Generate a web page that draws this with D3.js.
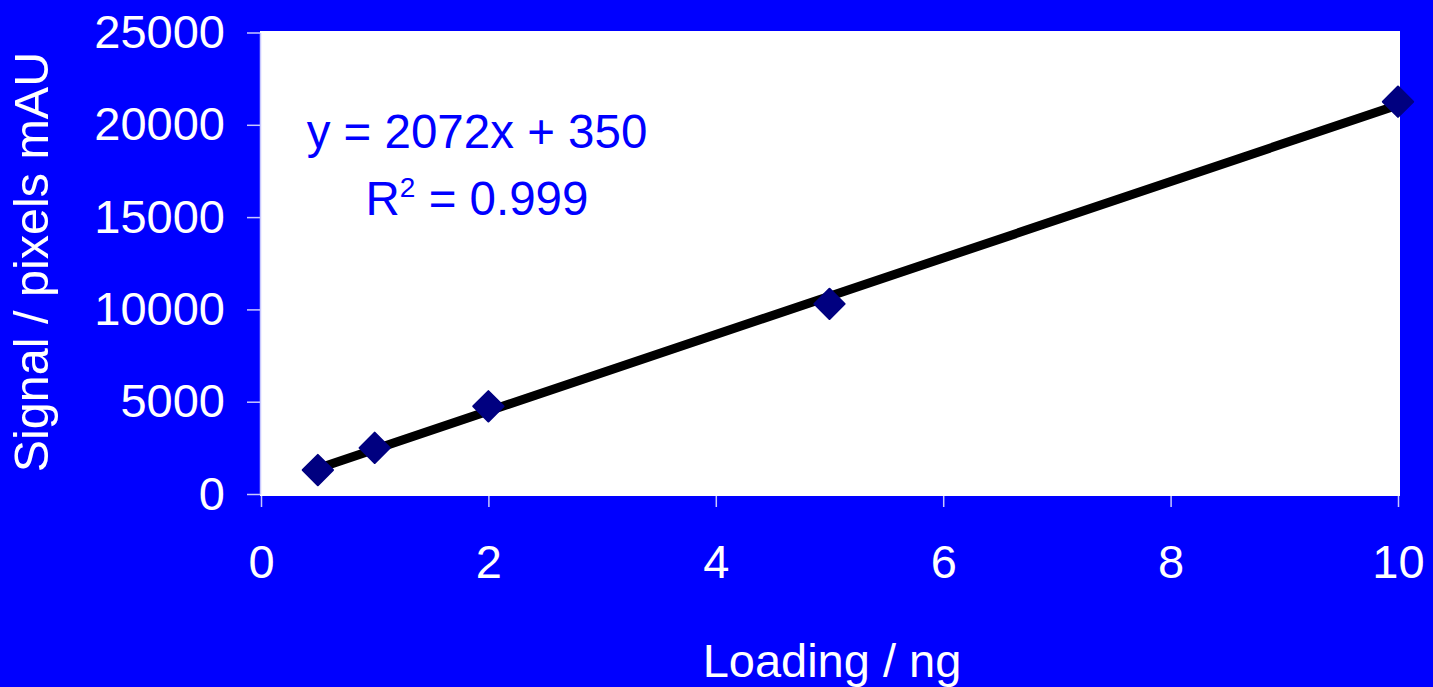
<!DOCTYPE html>
<html>
<head>
<meta charset="utf-8">
<script src="https://cdn.jsdelivr.net/npm/d3@7"></script>
<style>
  html, body { margin: 0; padding: 0; background: #0000ff; overflow: hidden; }
  svg { display: block; }
  text { font-family: "Liberation Sans", Arial, sans-serif; }
</style>
</head>
<body>
<svg id="chart" width="1433" height="687"></svg>
<script>
// ---- data ----
const loading = [0.5, 1, 2, 5, 10];
const signal = [1300, 2500, 4750, 10300, 21250];
const xTicks = [0, 2, 4, 6, 8, 10];
const yTicks = [0, 5000, 10000, 15000, 20000, 25000];
const slope = 2072, intercept = 350;
const eqLine1 = "y = 2072x + 350";
const eqR2 = "0.999";
const xTitle = "Loading / ng";
const yTitle = "Signal / pixels mAU";

// ---- layout ----
const W = 1433, H = 687;
const svg = d3.select("#chart");
svg.append("rect").attr("width", W).attr("height", H).attr("fill", "#0000ff");

const x = d3.scaleLinear().domain([0, 10]).range([261, 1398]);
const y = d3.scaleLinear().domain([0, 25000]).range([494, 32.5]);

// plot area
svg.append("rect")
  .attr("x", 260).attr("y", 31)
  .attr("width", 1400 - 260).attr("height", 496 - 31)
  .attr("fill", "#ffffff");

const tickColor = "#c8c8ff";
const fontSize = 47;

// y axis
const yAxis = svg.append("g").attr("transform", "translate(260,0)")
  .call(d3.axisLeft(y).tickValues(yTicks).tickSize(13).tickSizeOuter(0).tickPadding(22).tickFormat(d3.format("d")));
yAxis.select(".domain").attr("stroke", tickColor).attr("stroke-width", 1.5);
yAxis.selectAll(".tick line").attr("stroke", tickColor).attr("stroke-width", 1.5);
yAxis.selectAll(".tick text").attr("fill", "#ffffff").attr("font-size", fontSize)
  .attr("font-family", "Liberation Sans, Arial, sans-serif").attr("dy", "0.32em");

// x axis
const xAxis = svg.append("g").attr("transform", "translate(0,496)")
  .call(d3.axisBottom(x).tickValues(xTicks).tickSize(11).tickSizeOuter(0).tickPadding(38).tickFormat(d3.format("d")));
xAxis.select(".domain").remove();
xAxis.selectAll(".tick line").attr("stroke", tickColor).attr("stroke-width", 1.5);
xAxis.selectAll(".tick text").attr("fill", "#ffffff").attr("font-size", fontSize)
  .attr("font-family", "Liberation Sans, Arial, sans-serif").attr("dy", "0.71em");

// trendline
const xMin = d3.min(loading), xMax = d3.max(loading);
svg.append("line")
  .attr("x1", x(xMin)).attr("y1", y(slope * xMin + intercept))
  .attr("x2", x(xMax)).attr("y2", y(slope * xMax + intercept))
  .attr("stroke", "#000000").attr("stroke-width", 9).attr("stroke-linecap", "round");

// markers (diamonds)
const diamond = d3.symbol().type(d3.symbolSquare).size(460);
svg.append("g").selectAll("path")
  .data(loading.map((d, i) => [d, signal[i]]))
  .join("path")
  .attr("d", diamond)
  .attr("transform", d => `translate(${x(d[0])},${y(d[1])}) rotate(45)`)
  .attr("fill", "#000080")
  .attr("stroke", "#000080").attr("stroke-width", 2).attr("stroke-linejoin", "round");

// equation text
svg.append("text")
  .attr("x", 477).attr("y", 148)
  .attr("text-anchor", "middle")
  .attr("fill", "#0000ff").attr("font-size", 47.5)
  .text(eqLine1);
const r2 = svg.append("text")
  .attr("x", 477).attr("y", 215)
  .attr("text-anchor", "middle")
  .attr("fill", "#0000ff").attr("font-size", 47.5);
r2.append("tspan").text("R");
r2.append("tspan").attr("font-size", 28).attr("dy", -18).text("2");
r2.append("tspan").attr("dy", 18).text(" = " + eqR2);

// axis titles
svg.append("text")
  .attr("x", 832).attr("y", 677)
  .attr("text-anchor", "middle")
  .attr("fill", "#ffffff").attr("font-size", fontSize)
  .text(xTitle);
svg.append("text")
  .attr("transform", "translate(48,262) rotate(-90)")
  .attr("text-anchor", "middle")
  .attr("fill", "#ffffff").attr("font-size", 48.5)
  .text(yTitle);
</script>
</body>
</html>
